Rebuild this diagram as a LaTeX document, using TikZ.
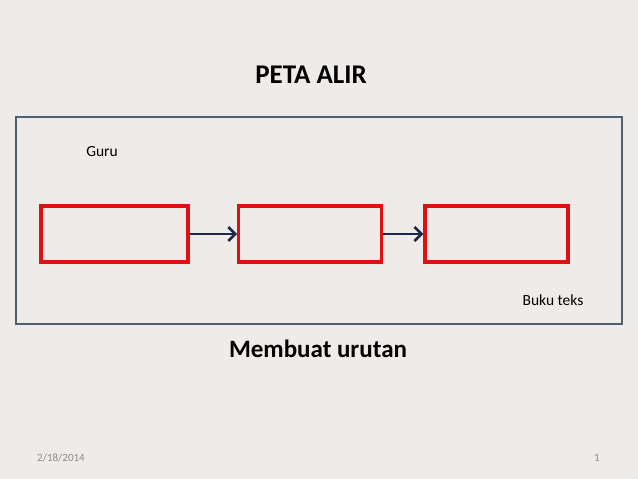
\documentclass[tikz,border=0pt]{standalone}
\usepackage{fontspec}
\setmainfont{Carlito}
\usepackage{tikz}
\usetikzlibrary{arrows.meta, positioning}
\definecolor{slideBg}{HTML}{EEEBE9}
\definecolor{frameC}{HTML}{4F5F6F}
\definecolor{boxRed}{HTML}{E01010}
\definecolor{arrNavy}{HTML}{1C2850}
\definecolor{footG}{HTML}{8A8A8A}
\tikzset{
  frame/.style={draw=frameC, line width=1.8pt, minimum width=606pt, minimum height=207pt, inner sep=0pt},
  stepbox/.style={draw=boxRed, line width=3.2pt, minimum height=56pt, inner sep=0pt},
  A/.style={-{Straight Barb[length=7pt,width=14pt,line width=2.6pt]}, draw=arrNavy, line width=2.8pt},
  lbl/.style={font=\fontsize{15.5}{18}\selectfont, inner sep=0pt},
  foot/.style={font=\fontsize{11}{13}\selectfont, text=footG, inner sep=0pt},
}
\begin{document}
\begin{tikzpicture}[x=1pt, y=-1pt]
\useasboundingbox[fill=slideBg] (0,0) rectangle (638,479);

% title and caption
\node[font=\fontsize{27}{32}\selectfont\bfseries, inner sep=0pt] (title) at (311,75) {PETA ALIR};

% outer frame
\node[frame] (frm) at (319,220.5) {};
\node[lbl] (guru) at (102,152) {Guru};
\node[lbl] (buku) at (553,300) {Buku teks};

% flow boxes
\node[stepbox, minimum width=147pt] (s1) at (114.5,234) {};
\node[stepbox, minimum width=143pt, right=47.5pt of s1] (s2) {};
\node[stepbox, minimum width=143pt, right=40pt of s2] (s3) {};
\draw[A] (s1) -- (s2);
\draw[A] (s2) -- (s3);

\node[font=\fontsize{25}{30}\selectfont\bfseries, inner sep=0pt] (cap) at (318,349) {Membuat urutan};

% footer
\node[foot] (date) at (61,458) {2/18/2014};
\node[foot] (pg) at (597,458) {1};
\end{tikzpicture}
\end{document}
